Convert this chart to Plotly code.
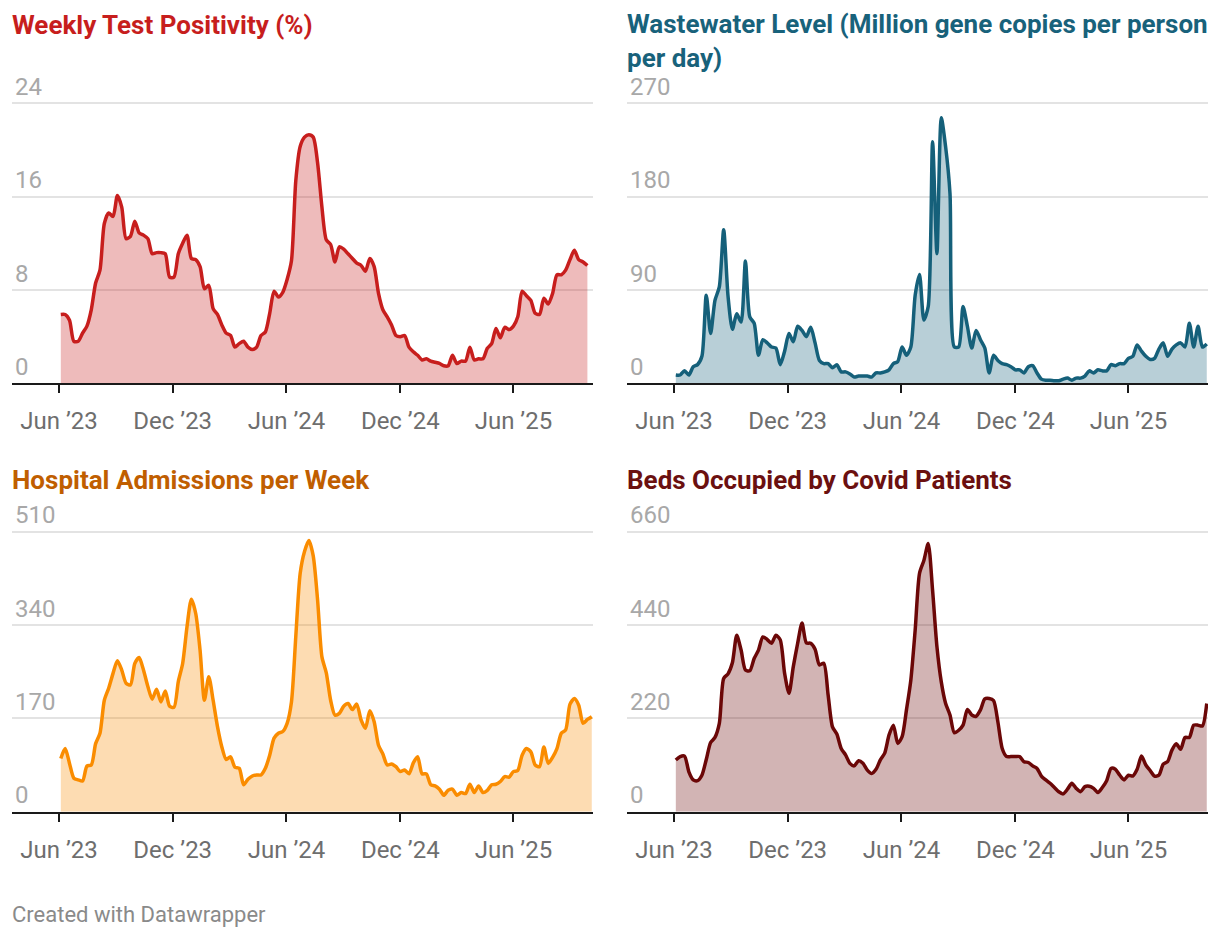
import pandas as pd
import plotly.graph_objects as go

# ---------------- data ----------------
weeks = pd.date_range("2023-06-04", periods=123, freq="7D")

positivity = [5.9, 5.9, 5.4, 3.6, 3.6, 4.3, 4.9, 6.3, 8.6, 9.7,
              13.7, 14.6, 14.3, 16.1, 15.1, 12.4, 12.6, 13.9, 12.9, 12.7,
              12.4, 11.1, 11.2, 11.2, 11.1, 9.1, 9.1, 11.1, 12.0, 12.7,
              10.7, 10.6, 10.0, 8.1, 8.4, 6.4, 5.9, 5.0, 4.3, 4.1,
              3.1, 3.4, 3.6, 3.1, 2.9, 3.1, 4.1, 4.4, 6.0, 7.9,
              7.4, 7.8, 8.9, 10.5, 17.4, 20.3, 21.1, 21.3, 21.1, 18.9,
              15.1, 12.3, 11.9, 10.4, 11.7, 11.5, 11.1, 10.7, 10.3, 10.1,
              9.6, 10.7, 10.0, 7.7, 6.3, 5.7, 5.0, 4.1, 4.0, 4.1,
              3.1, 2.7, 2.4, 2.0, 2.1, 1.9, 1.8, 1.7, 1.5, 1.5,
              2.4, 1.7, 1.9, 1.9, 3.1, 2.0, 2.1, 2.1, 3.0, 3.4,
              4.7, 3.9, 4.8, 4.6, 4.9, 5.7, 7.9, 7.5, 7.1, 6.0,
              5.9, 7.3, 6.8, 7.7, 9.3, 9.3, 9.7, 10.6, 11.4, 10.6,
              10.4, 10.1]

wastewater = [8, 8, 12, 8, 16, 18, 26, 85, 48, 80,
              93, 148, 84, 52, 67, 59, 118, 64, 58, 27,
              42, 39, 35, 34, 18, 31, 48, 40, 55, 51,
              45, 54, 39, 22, 19, 19, 15, 18, 11, 11,
              9, 6, 7, 7, 7, 6, 10, 10, 11, 13,
              19, 21, 35, 27, 35, 85, 105, 61, 74, 233,
              125, 256, 228, 183, 35, 35, 74, 55, 34, 51,
              42, 34, 10, 27, 22, 19, 18, 16, 13, 13,
              10, 16, 17, 10, 4, 3, 3, 2.5, 2.5, 4,
              5, 3, 5, 5, 7, 12, 10, 13, 12, 12,
              18, 17, 19, 19, 24, 26, 37, 31, 26, 23,
              24, 33, 39, 26, 33, 37, 39, 35, 58, 35,
              55, 35, 38]

admissions = [97, 115, 88, 61, 58, 56, 83, 85, 124, 143,
              203, 225, 252, 275, 258, 234, 231, 270, 281, 258,
              228, 205, 223, 200, 220, 192, 190, 237, 270, 337,
              387, 361, 294, 203, 246, 203, 155, 118, 95, 100,
              81, 79, 49, 59, 65, 67, 67, 79, 103, 134,
              143, 146, 161, 200, 320, 434, 474, 494, 466, 386,
              282, 253, 203, 176, 179, 192, 197, 186, 196, 167,
              152, 184, 164, 121, 105, 85, 87, 82, 73, 76,
              69, 89, 100, 69, 69, 49, 47, 41, 30, 39,
              41, 30, 35, 33, 50, 35, 47, 35, 39, 49,
              50, 55, 64, 63, 73, 75, 103, 115, 109, 85,
              82, 118, 88, 99, 115, 143, 149, 196, 206, 194,
              161, 168, 173]

beds = [122, 130, 131, 94, 75, 73, 86, 123, 163, 175,
        208, 314, 325, 351, 416, 381, 334, 332, 361, 381,
        412, 406, 397, 416, 405, 326, 279, 342, 397, 445,
        398, 397, 383, 346, 350, 275, 200, 183, 149, 134,
        114, 108, 120, 114, 98, 90, 100, 122, 138, 181,
        204, 161, 177, 240, 310, 428, 562, 592, 632, 522,
        389, 306, 255, 228, 186, 192, 204, 241, 228, 225,
        240, 266, 267, 262, 212, 149, 130, 130, 130, 130,
        118, 116, 108, 102, 84, 75, 67, 57, 47, 42,
        53, 67, 55, 47, 59, 60, 55, 45, 57, 73,
        102, 100, 86, 75, 86, 84, 100, 131, 110, 97,
        84, 86, 112, 118, 145, 160, 147, 175, 175, 204,
        204, 202, 255]

titles = ["Weekly Test Positivity (%)",
          "Wastewater Level (Million gene copies per person<br>per day)",
          "Hospital Admissions per Week",
          "Beds Occupied by Covid Patients"]
y_ticks = [[0, 8, 16, 24], [0, 90, 180, 270], [0, 170, 340, 510], [0, 220, 440, 660]]
x_tick_dates = ["2023-06-01", "2023-12-01", "2024-06-01", "2024-12-01", "2025-06-01"]

# ---------------- styling / layout ----------------
PAGE_OFF = 8                 # default page body margin
W, H = 1212, 930             # figure size (fits the window with the body margin)


def fx(px):
    return (px - PAGE_OFF) / W


def fy(py):
    return 1 - (py - PAGE_OFF) / H


line_colors = ["#c71e1d", "#15607a", "#fa8c00", "#6b0707"]
fill_colors = ["rgba(199,30,29,0.3)", "rgba(21,96,122,0.3)",
               "rgba(250,140,0,0.3)", "rgba(107,7,7,0.3)"]
title_colors = ["#c71e1d", "#18627b", "#c05e00", "#6b1010"]

# panel pixel boxes in the target picture: (left, right, top gridline, baseline)
boxes = [(12, 593, 103.3, 383.3), (627, 1208, 103.3, 383.3),
         (12, 593, 531.7, 811.7), (627, 1208, 531.7, 811.7)]
title_y = [25, 41, 480, 480]
PAD = 0.006  # small headroom so the top gridline is drawn

series = [positivity, wastewater, admissions, beds]

fig = go.Figure()
for i, vals in enumerate(series):
    ax = "" if i == 0 else str(i + 1)
    fig.add_trace(go.Scatter(
        x=weeks[:len(vals)], y=vals, mode="lines",
        line=dict(color=line_colors[i], width=3.5, shape="spline", smoothing=0.7),
        fill="tozeroy", fillcolor=fill_colors[i],
        xaxis="x" + ax, yaxis="y" + ax, showlegend=False, hoverinfo="skip"))

    l, r, t, b = boxes[i]
    ymax = y_ticks[i][-1]
    top_px = t - PAD * (b - t)
    xa = dict(domain=[fx(l), fx(r)],
              range=["2023-03-17 12:00", "2025-10-07"],
              type="date", tickvals=x_tick_dates, tickformat="%b \u2019%y",
              showgrid=False, zeroline=False, automargin=False,
              showline=True, linecolor="#1a1a1a", linewidth=2,
              ticks="outside", ticklen=8, tickwidth=2, tickcolor="#1a1a1a",
              tickfont=dict(family="Roboto", size=24, color="#6e6e6e"),
              ticklabelstandoff=7,
              anchor="y" + ax, fixedrange=True)
    ya = dict(domain=[fy(b), fy(top_px)],
              range=[0, ymax * (1 + PAD)], tickvals=y_ticks[i],
              showgrid=True, gridcolor="#e3e3e3", gridwidth=1.6,
              zeroline=False, showline=False, ticks="", automargin=False,
              ticklabelposition="inside top", ticklabeloverflow="allow",
              tickfont=dict(family="Roboto", size=24, color="#a8a8a8"),
              anchor="x" + ax, fixedrange=True)
    fig.layout["xaxis" + ax] = xa
    fig.layout["yaxis" + ax] = ya

    fig.add_annotation(text="<b>" + titles[i] + "</b>", xref="paper", yref="paper",
                       x=fx(l), y=fy(title_y[i]), xanchor="left", yanchor="middle",
                       xshift=-2, align="left", showarrow=False,
                       font=dict(family="Roboto", size=26, color=title_colors[i]))

fig.add_annotation(text="Created with Datawrapper", xref="paper", yref="paper",
                   x=fx(12), y=fy(914), xanchor="left", yanchor="middle", xshift=-2,
                   showarrow=False, font=dict(family="Roboto", size=22, color="#8a8a8a"))

fig.update_layout(template="none", width=W, height=H,
                  margin=dict(l=0, r=0, t=0, b=0, pad=0, autoexpand=False),
                  paper_bgcolor="white", plot_bgcolor="white",
                  hovermode=False)

fig.write_html("out.html", config={"displayModeBar": False})
